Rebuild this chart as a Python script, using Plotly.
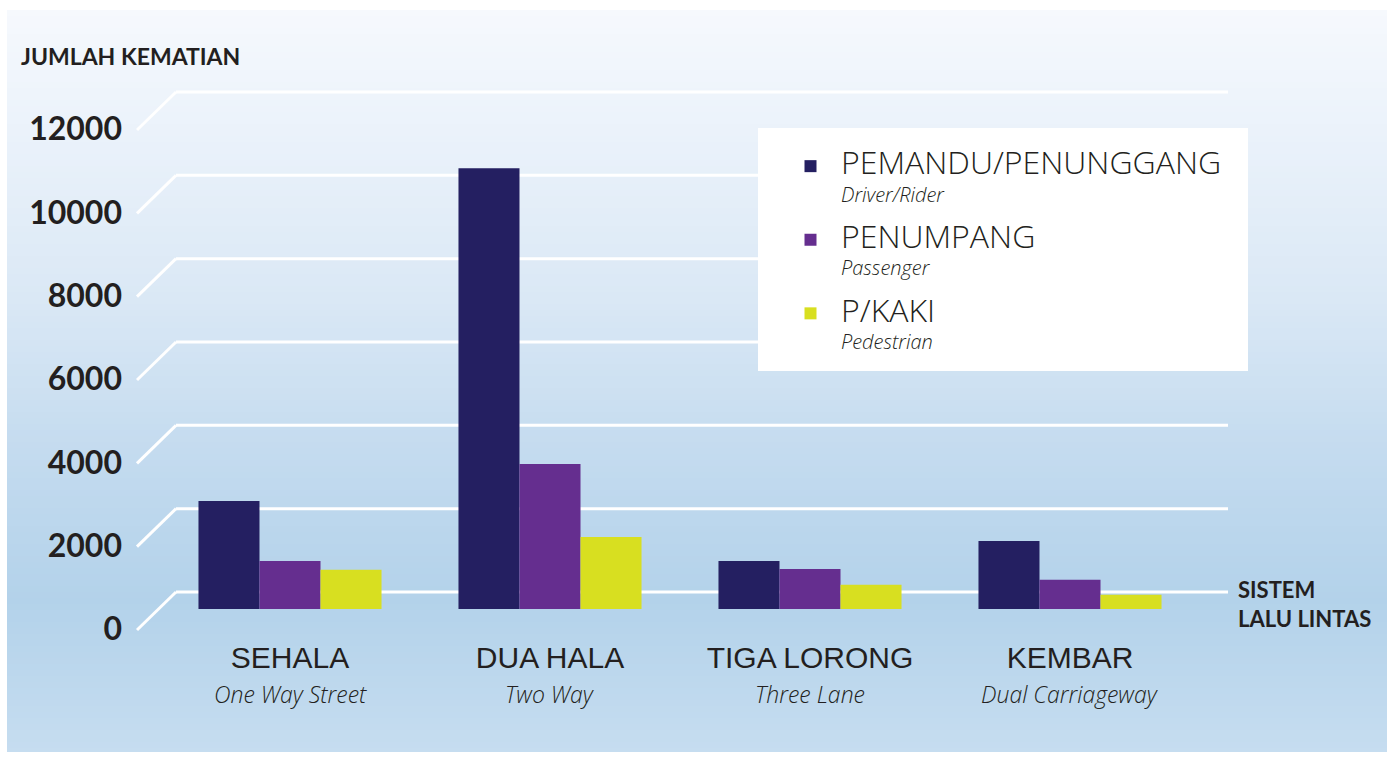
import plotly.graph_objects as go

# ---- data ----
categories = ["SEHALA", "DUA HALA", "TIGA LORONG", "KEMBAR"]
categories_en = ["One Way Street", "Two Way", "Three Lane", "Dual Carriageway"]
driver = [2590, 10580, 1150, 1630]
passenger = [1150, 3480, 960, 700]
pedestrian = [940, 1730, 580, 340]
series_names = ["PEMANDU/PENUNGGANG", "PENUMPANG", "P/KAKI"]
series_names_en = ["Driver/Rider", "Passenger", "Pedestrian"]
y_ticks = [0, 2000, 4000, 6000, 8000, 10000, 12000]

# ---- styling ----
W, H = 1394, 758
colors = ["#241f61", "#652e8f", "#d8df20"]
TXT = "#231f20"
UPP = 24.0  # value units per pixel on the bar plane
BASE_PX = 609  # pixel row of value 0 on the bar plane


def px(v):
    return v / W


def py(v):
    return 1 - v / H


y_top_px, y_bot_px = 60, 640
y_range = [(BASE_PX - y_bot_px) * UPP, (BASE_PX - y_top_px) * UPP]
back_off = 17 * UPP     # back wall is 17 px above the bar plane
slant_px = 38           # slanted floor edge length (px)
label_off = -20 * UPP   # tick labels sit at the front edge

fig = go.Figure()
for name, en, vals, c in zip(series_names, series_names_en,
                             [driver, passenger, pedestrian], colors):
    fig.add_trace(go.Bar(
        x=categories, y=vals, marker=dict(color=c, line=dict(width=0)),
        name=(f"<span style='font-size:32px'>{name}</span><br>"
              f"<span style='font-size:20px'><i>{en}</i></span>"),
        legendgroup=name,
    ))

# dummy trace for the tick-label axis
fig.add_trace(go.Scatter(x=[None], y=[None], yaxis="y2", showlegend=False,
                         hoverinfo="skip"))

shapes = []
# background gradient panel
stops = [(10, (246, 249, 253)), (150, (233, 241, 250)), (300, (218, 232, 245)),
         (450, (196, 219, 239)), (600, (179, 210, 234)), (752, (198, 221, 240))]


def col_at(y):
    for (y0, c0), (y1, c1) in zip(stops[:-1], stops[1:]):
        if y0 <= y <= y1:
            t = (y - y0) / (y1 - y0)
            return "rgb(%d,%d,%d)" % tuple(round(a + (b - a) * t) for a, b in zip(c0, c1))
    return "rgb(%d,%d,%d)" % stops[-1][1]


step = 6
y = 10
while y < 752:
    y2 = min(y + step, 752)
    shapes.append(dict(type="rect", xref="paper", yref="paper",
                       x0=px(7), x1=px(1387), y0=py(min(y2 + 0.5, 752)), y1=py(y),
                       fillcolor=col_at((y + y2) / 2), line=dict(width=0),
                       layer="below"))
    y = y2

# gridlines (back wall + slanted floor edge)
for t in y_ticks:
    yb = t + back_off
    shapes.append(dict(type="line", xref="paper", yref="y",
                       x0=px(176), x1=px(1228), y0=yb, y1=yb,
                       line=dict(color="white", width=3), layer="below"))
    shapes.append(dict(type="line", xref="paper", yref="y",
                       x0=px(176), x1=px(137), y0=yb, y1=yb - slant_px * UPP,
                       line=dict(color="white", width=3), layer="below"))

# legend box
shapes.append(dict(type="rect", xref="paper", yref="paper",
                   x0=px(758), x1=px(1248), y0=py(371), y1=py(128),
                   fillcolor="white", line=dict(width=0), layer="below"))

annotations = [
    dict(text="<b>JUMLAH KEMATIAN</b>", xref="paper", yref="paper",
         x=px(19), y=py(56), xanchor="left", yanchor="middle", showarrow=False,
         font=dict(family="Lato, DejaVu Sans", size=23, color=TXT)),
    dict(text="<b>SISTEM<br>LALU LINTAS</b>", xref="paper", yref="paper",
         x=px(1236), y=py(604), xanchor="left", yanchor="middle", showarrow=False,
         align="left",
         font=dict(family="Lato, DejaVu Sans", size=22, color=TXT)),
]
for cat, en in zip(categories, categories_en):
    annotations.append(dict(text=f"<i>{en}</i>", xref="x", yref="paper",
                            x=cat, y=py(694), xanchor="center", yanchor="middle",
                            showarrow=False,
                            font=dict(family="Open Sans, Liberation Sans", size=23,
                                      color=TXT, weight=300)))

fig.update_layout(
    width=W, height=H,
    margin=dict(l=0, r=0, t=0, b=0, autoexpand=False),
    paper_bgcolor="white", plot_bgcolor="rgba(0,0,0,0)",
    barmode="group", bargap=0.296, bargroupgap=0,
    showlegend=True,
    legend=dict(x=px(780), y=py(146), xanchor="left", yanchor="top",
                bgcolor="rgba(0,0,0,0)", valign="top",
                font=dict(family="Open Sans, Liberation Sans", size=21, color=TXT,
                          weight=300),
                tracegroupgap=16, itemwidth=51),
    xaxis=dict(domain=[px(160), px(1200)], range=[-0.5, 3.5],
               anchor="free", position=py(637),
               showgrid=False, zeroline=False, showline=False, ticks="",
               tickfont=dict(family="Liberation Sans, Arial", size=30, color=TXT)),
    yaxis=dict(domain=[py(y_bot_px), py(y_top_px)], range=y_range,
               showgrid=False, zeroline=False, showline=False,
               showticklabels=False, ticks=""),
    yaxis2=dict(overlaying="y", anchor="free", position=px(122), side="left",
                range=[y_range[0] - label_off, y_range[1] - label_off],
                tickvals=y_ticks, ticktext=[f"<b>{t}</b>" for t in y_ticks],
                showgrid=False, zeroline=False, showline=False, ticks="",
                tickfont=dict(family="Lato, DejaVu Sans", size=32, color=TXT)),
    shapes=shapes,
    annotations=annotations,
)

fig.write_html("out.html", include_plotlyjs=True,
               config={"displayModeBar": False},
               post_script="document.body.style.margin='0';document.body.style.overflow='hidden';")
